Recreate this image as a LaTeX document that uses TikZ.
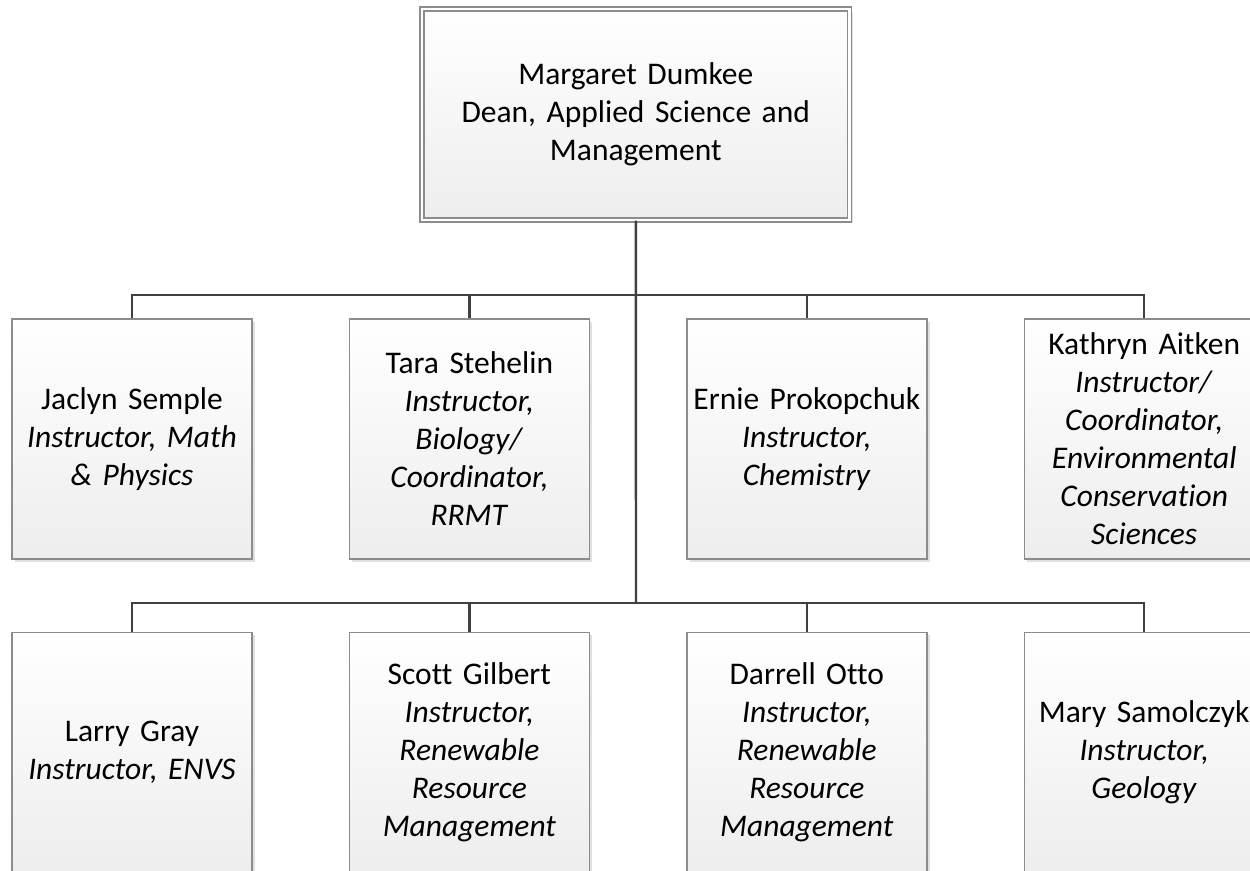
\documentclass[tikz,border=0pt]{standalone}
\usepackage{fontspec}
\setmainfont{Carlito}[Ligatures=CommonOff]
\usetikzlibrary{positioning,shadows}
\definecolor{boxline}{HTML}{8C8C8C}
\definecolor{linkline}{HTML}{404040}
\tikzset{
    %node distance=48pt,
    font=\fontsize{15.75}{19}\selectfont,
    staff/.style={rectangle,draw=boxline,line width=0.7pt,top color=white,bottom color=black!7,
        minimum width=120pt,minimum height=120pt,inner sep=0pt,align=center,text width=118pt,
        drop shadow={shadow xshift=1.5pt,shadow yshift=-1.5pt,fill=black!12,opacity=1}},
    dean/.style={staff,double=white,double distance=1.3pt,minimum width=213.75pt,minimum height=105.5pt,text width=200pt},
    link/.style={draw=linkline,line width=1.2pt}
}

\begin{document}
\begin{tikzpicture}[x=0.5pt,y=-0.5pt]
    \useasboundingbox (0,0) rectangle (1250,871);
    \coordinate (upper hub) at (636,295);
    \coordinate (lower hub) at (636,603);
    % connectors first, boxes on top
    \node[staff] (semple) at (132,439) {Jaclyn Semple\\ \textit{Instructor, Math}\\ \textit{\& Physics}};
    \node[staff] (stehelin) [right = 48pt of semple] {Tara Stehelin\\ \textit{Instructor,}\\ \textit{Biology/}\\ \textit{Coordinator,}\\ \textit{RRMT}};
    \node[staff] (prokopchuk) [right = 48pt of stehelin] {Ernie Prokopchuk\\ \textit{Instructor,}\\ \textit{Chemistry}};
    \node[staff] (aitken) [right = 48pt of prokopchuk] {Kathryn Aitken\\ \textit{Instructor/}\\ \textit{Coordinator,}\\ \textit{Environmental}\\ \textit{Conservation}\\ \textit{Sciences}};
    \node[staff] (gray) [below = 36pt of semple] {Larry Gray\\ \textit{Instructor, ENVS}};
    \node[staff] (gilbert) [right = 48pt of gray] {Scott Gilbert\\ \textit{Instructor,}\\ \textit{Renewable}\\ \textit{Resource}\\ \textit{Management}};
    \node[staff] (otto) [right = 48pt of gilbert] {Darrell Otto\\ \textit{Instructor,}\\ \textit{Renewable}\\ \textit{Resource}\\ \textit{Management}};
    \node[staff] (samolczyk) [right = 48pt of otto] {Mary Samolczyk\\ \textit{Instructor,}\\ \textit{Geology}};
    \node[dean] (dumkee) at (635.75,114.5) {Margaret Dumkee\\ Dean, Applied Science and\\ Management};
    \path[link]
        (dumkee) edge (lower hub)
        (semple.north) edge [to path={|- (upper hub) -| (\tikztotarget)}] (aitken.north)
        (stehelin.north) edge (stehelin.north |- upper hub)
        (prokopchuk.north) edge (prokopchuk.north |- upper hub)
        (gray.north) edge [to path={|- (lower hub) -| (\tikztotarget)}] (samolczyk.north)
        (gilbert.north) edge (gilbert.north |- lower hub)
        (otto.north) edge (otto.north |- lower hub)
        ;
\end{tikzpicture}
\end{document}
